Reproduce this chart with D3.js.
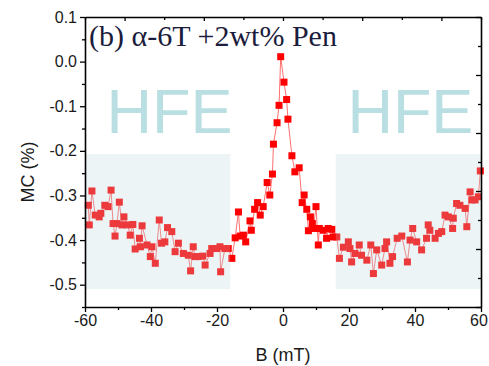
<!DOCTYPE html>
<html><head><meta charset="utf-8">
<script src="https://cdn.jsdelivr.net/npm/d3@7"></script>
<style>body{margin:0;background:#fff}svg{display:block}</style>
</head><body><svg id="c" width="489" height="366"></svg>
<script>
// Data
const fieldB = [-59.0,-58.7,-57.9,-56.9,-55.7,-55.2,-54.0,-53.0,-52.1,-51.5,-50.9,-50.3,-49.6,-48.8,-48.2,-47.1,-46.3,-45.5,-44.8,-43.5,-43.2,-42.7,-41.2,-40.2,-39.7,-38.7,-37.5,-36.8,-35.8,-35.0,-33.7,-32.7,-31.7,-30.2,-28.7,-28.0,-27.2,-26.7,-25.7,-24.3,-23.6,-22.1,-21.6,-20.1,-19.1,-18.9,-17.6,-16.6,-15.5,-14.5,-13.5,-13.0,-12.0,-11.3,-10.0,-9.6,-8.6,-7.7,-6.9,-6.0,-4.8,-4.0,-3.2,-2.9,-1.8,-1.2,-0.7,0.3,1.1,1.5,2.7,3.6,4.9,5.8,6.4,7.2,7.7,8.3,8.9,9.2,10.0,10.7,11.0,12.2,13.2,13.7,14.8,15.2,16.3,17.1,18.3,19.8,20.3,20.8,21.8,23.1,23.8,25.4,26.6,27.4,28.4,29.9,30.9,31.4,32.4,33.2,34.6,36.0,37.7,38.5,39.3,40.5,42.0,43.5,44.0,44.5,46.1,47.1,48.1,49.1,50.1,51.4,51.6,52.6,53.6,55.2,55.7,56.7,57.2,58.2,59.2,59.8];
const mcValues = [-0.322,-0.366,-0.290,-0.344,-0.348,-0.340,-0.322,-0.325,-0.288,-0.363,-0.391,-0.363,-0.315,-0.366,-0.348,-0.366,-0.389,-0.365,-0.420,-0.396,-0.415,-0.368,-0.411,-0.437,-0.415,-0.452,-0.355,-0.407,-0.404,-0.372,-0.381,-0.426,-0.407,-0.430,-0.434,-0.469,-0.415,-0.437,-0.437,-0.436,-0.456,-0.430,-0.419,-0.419,-0.415,-0.471,-0.419,-0.419,-0.441,-0.395,-0.337,-0.391,-0.389,-0.404,-0.357,-0.378,-0.331,-0.316,-0.344,-0.325,-0.271,-0.299,-0.252,-0.185,-0.137,-0.098,0.011,-0.046,-0.085,-0.129,-0.211,-0.247,-0.238,-0.316,-0.299,-0.331,-0.379,-0.348,-0.363,-0.374,-0.325,-0.411,-0.374,-0.378,-0.396,-0.374,-0.376,-0.393,-0.393,-0.441,-0.416,-0.404,-0.419,-0.449,-0.430,-0.411,-0.434,-0.445,-0.411,-0.475,-0.422,-0.456,-0.419,-0.404,-0.452,-0.437,-0.396,-0.391,-0.449,-0.400,-0.374,-0.404,-0.422,-0.396,-0.366,-0.378,-0.396,-0.385,-0.381,-0.344,-0.348,-0.374,-0.351,-0.318,-0.322,-0.329,-0.370,-0.292,-0.310,-0.310,-0.303,-0.245];
const xTickValues = [-60,-40,-20,0,20,40,60];
const xMinorTicks = [-50,-30,-10,10,30,50];
const yTickValues = [-0.5,-0.4,-0.3,-0.2,-0.1,0.0,0.1];
const yMinorTicks = [-0.55,-0.45,-0.35,-0.25,-0.15,-0.05,0.05];
const topTicks = [-48,-24,0,24,48];
const topMinorTicks = [-60,-36,-12,12,36,60];
const rightTicks = [-0.55,-0.42,-0.29,-0.16,-0.03,0.1];
const rightMinorTicks = [-0.485,-0.355,-0.225,-0.095,0.035];
const hfeRegions = [[-60,-16],[16,60]];
const hfeRange = [-0.51,-0.207];
const hfeLabel = "HFE";
const titleText = "(b) α-6T +2wt% Pen";

const L=85,R=481,T=17,B=307;
const svg=d3.select("#c");
const x=d3.scaleLinear().domain([-60,60]).range([L,R]);
const y=d3.scaleLinear().domain([-0.55,0.1]).range([B,T]);
const pts=fieldB.map((b,i)=>({b,v:mcValues[i]}));

// line
svg.append("path").datum(pts)
  .attr("d",d3.line().x(d=>x(d.b)).y(d=>y(d.v)))
  .attr("fill","none").attr("stroke","#ff7070").attr("stroke-width",1);
// squares
svg.append("g").selectAll("rect").data(pts).join("rect")
  .attr("x",d=>x(d.b)-3.5).attr("y",d=>y(d.v)-3.5)
  .attr("width",7).attr("height",7).attr("fill","#ff0000");
// HFE overlays
svg.append("g").selectAll("rect").data(hfeRegions).join("rect")
  .attr("x",d=>x(d[0])).attr("width",d=>x(d[1])-x(d[0]))
  .attr("y",y(hfeRange[1])).attr("height",y(hfeRange[0])-y(hfeRange[1]))
  .attr("fill","rgb(185,215,222)").attr("fill-opacity",0.27);
// HFE text
svg.append("g").selectAll("text").data(hfeRegions).join("text")
  .attr("x",d=>(x(d[0])+x(d[1]))/2+(d[0]<0?12:2)).attr("y",133)
  .attr("text-anchor","middle")
  .attr("font-family","Liberation Sans, Arial, sans-serif").attr("font-size",63)
  .attr("fill","#badfe2").text(hfeLabel);

const fmtY=d=>d.toFixed(1);
function styleAxis(g){
  g.selectAll(".domain").attr("stroke","#000").attr("stroke-width",1.6);
  g.selectAll(".tick line").attr("stroke","#000").attr("stroke-width",1.3);
  g.selectAll("text").attr("font-family","Liberation Sans, Arial, sans-serif").attr("font-size",16).attr("fill","#1a1a1a");
}
// bottom
const gb=svg.append("g").attr("transform",`translate(0,${B})`)
  .call(d3.axisBottom(x).tickValues(xTickValues).tickFormat(d=>String(d)).tickSize(5).tickSizeOuter(0).tickPadding(3));
styleAxis(gb);
gb.selectAll(".tick text").filter(d=>d===60).attr("dx",-2.5);
const gbm=svg.append("g").attr("transform",`translate(0,${B})`)
  .call(d3.axisBottom(x).tickValues(xMinorTicks).tickFormat("").tickSize(3).tickSizeOuter(0));
styleAxis(gbm); gbm.select(".domain").remove();
// left
const gl=svg.append("g").attr("transform",`translate(${L},0)`)
  .call(d3.axisLeft(y).tickValues(yTickValues).tickFormat(fmtY).tickSize(5).tickSizeOuter(0).tickPadding(3));
styleAxis(gl);
const glm=svg.append("g").attr("transform",`translate(${L},0)`)
  .call(d3.axisLeft(y).tickValues(yMinorTicks).tickFormat("").tickSize(3).tickSizeOuter(0));
styleAxis(glm); glm.select(".domain").remove();
// top (inward)
const gt=svg.append("g").attr("transform",`translate(0,${T})`)
  .call(d3.axisBottom(x).tickValues(topTicks).tickFormat("").tickSize(4).tickSizeOuter(0));
styleAxis(gt);
const gtm=svg.append("g").attr("transform",`translate(0,${T})`)
  .call(d3.axisBottom(x).tickValues(topMinorTicks).tickFormat("").tickSize(3).tickSizeOuter(0));
styleAxis(gtm); gtm.select(".domain").remove();
// right (inward)
const gr=svg.append("g").attr("transform",`translate(${R},0)`)
  .call(d3.axisLeft(y).tickValues(rightTicks).tickFormat("").tickSize(5).tickSizeOuter(0));
styleAxis(gr);
const grm=svg.append("g").attr("transform",`translate(${R},0)`)
  .call(d3.axisLeft(y).tickValues(rightMinorTicks).tickFormat("").tickSize(3).tickSizeOuter(0));
styleAxis(grm); grm.select(".domain").remove();

// axis titles
svg.append("text").attr("x",(L+R)/2).attr("y",361).attr("text-anchor","middle")
  .attr("font-family","Liberation Sans, Arial, sans-serif").attr("font-size",18).attr("fill","#1a1a1a").text("B (mT)");
svg.append("text").attr("transform","translate(34,172) rotate(-90)").attr("text-anchor","middle")
  .attr("font-family","Liberation Sans, Arial, sans-serif").attr("font-size",18).attr("fill","#1a1a1a").text("MC (%)");
// title
svg.append("text").attr("x",89).attr("y",46)
  .attr("font-family","Liberation Serif, Times New Roman, serif").attr("font-size",30).attr("fill","#1c1c3c").text(titleText);
</script></body></html>
